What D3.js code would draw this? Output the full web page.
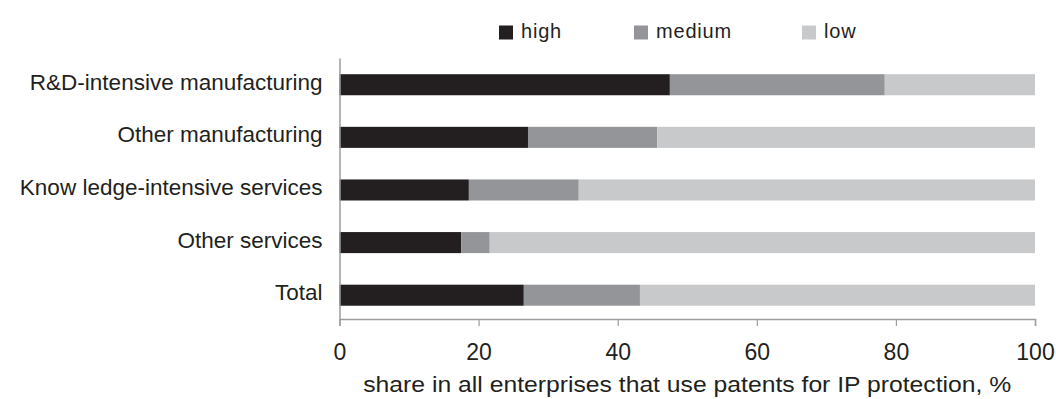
<!DOCTYPE html>
<html>
<head>
<meta charset="utf-8">
<script src="https://cdn.jsdelivr.net/npm/d3@7"></script>
<style>
  body { margin: 0; background: #fff; }
  text { font-family: Arial, "Liberation Sans", sans-serif; fill: #231f20; }
</style>
</head>
<body>
<div id="corpo"></div>
<script>
// chart data
var categories = ["R&D-intensive manufacturing", "Other manufacturing", "Know ledge-intensive services", "Other services", "Total"];
var series = ["high", "medium", "low"];
var high   = [47.5, 27.1, 18.6, 17.5, 26.5];
var medium = [30.9, 18.6, 15.8, 4.1, 16.7];
var low    = [21.6, 54.3, 65.6, 78.4, 56.8];
var xTicks = [0, 20, 40, 60, 80, 100];
var xTitle = "share in all enterprises that use patents for IP protection, %";

var colors = {high: "#231f20", medium: "#939598", low: "#c8c9cb"};

var width = 1056, height = 399;

var data = categories.map(function(c, i){
    return {cat: c, high: high[i], medium: medium[i], low: low[i]};
});
var stacked = d3.stack().keys(series)(data);

var svg = d3.select("#corpo").append("svg")
    .attr("width", width)
    .attr("height", height);

var x = d3.scaleLinear().domain([0, 100]).range([339.5, 1035]);
var y = d3.scaleBand().domain(categories).range([58, 319])
    .paddingInner(0.6).paddingOuter(0.28).align(0.55);

// bars
svg.selectAll(".serie")
    .data(stacked)
    .enter().append("g")
    .attr("class", "serie")
    .style("fill", function(d){ return colors[d.key]; })
    .selectAll("rect")
    .data(function(d){ return d; })
    .enter().append("rect")
    .attr("x", function(d){ return x(d[0]); })
    .attr("y", function(d){ return y(d.data.cat); })
    .attr("width", function(d){ return x(d[1]) - x(d[0]); })
    .attr("height", y.bandwidth());

// x axis
var xAxis = svg.append("g")
    .attr("transform", "translate(0,319)")
    .call(d3.axisBottom(x).tickValues(xTicks).tickSize(7));
xAxis.select(".domain").attr("stroke", "#9d9d9d").attr("stroke-width", 1.5);
xAxis.selectAll(".tick line").attr("stroke", "#9d9d9d").attr("stroke-width", 1.2);
xAxis.selectAll(".tick text")
    .attr("y", 41)
    .attr("dy", 0)
    .style("font-size", "23px")
    .attr("fill", "#231f20");

// y axis
var yAxis = svg.append("g")
    .attr("transform", "translate(339.5,0)")
    .call(d3.axisLeft(y).tickSize(0).tickPadding(17));
yAxis.select(".domain").attr("stroke", "#9d9d9d").attr("stroke-width", 1.5);
yAxis.selectAll(".tick text")
    .style("font-size", "22.5px")
    .attr("dy", "0.22em")
    .attr("fill", "#231f20");

// axis title
svg.append("text")
    .attr("x", x(50))
    .attr("y", 392)
    .attr("text-anchor", "middle")
    .attr("textLength", 648)
    .attr("lengthAdjust", "spacingAndGlyphs")
    .style("font-size", "22px")
    .text(xTitle);

// legend
var legendX = [499, 634, 802];
var legend = svg.selectAll(".legend")
    .data(series)
    .enter().append("g")
    .attr("class", "legend")
    .attr("transform", function(d, i){ return "translate(" + legendX[i] + ",25)"; });
legend.append("rect")
    .attr("width", 14).attr("height", 14).attr("y", 0.5)
    .style("fill", function(d){ return colors[d]; });
legend.append("text")
    .attr("x", 22).attr("y", 13)
    .style("font-size", "20px")
    .style("letter-spacing", "0.8px")
    .text(function(d){ return d; });
</script>
</body>
</html>
